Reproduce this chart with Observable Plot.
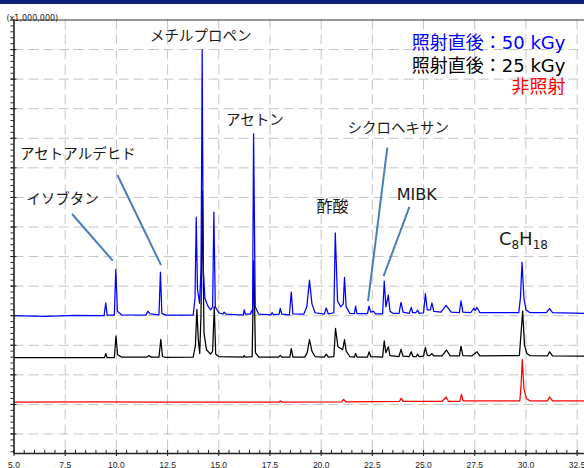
<!DOCTYPE html>
<html><head><meta charset="utf-8">
<script src="https://cdn.jsdelivr.net/npm/d3@7"></script>
<script src="https://cdn.jsdelivr.net/npm/@observablehq/plot@0.6"></script>
<style>
html,body{margin:0;padding:0;background:#fff;}
#bar{height:4px;background:#0d1f7a;}
#chart svg{display:block;}
</style></head><body>
<div id="bar"></div>
<div id="chart"></div>
<script>
// retention time (min), signal (x1,000,000, offset traces)
const blueTrace = [[5.0,4.00],[6.5,3.98],[8.0,4.01],[9.40,4.00],[9.48,4.43],[9.55,4.02],[9.90,4.02],[9.97,5.57],[10.05,4.15],[10.25,4.03],[11.45,4.02],[11.53,4.15],[11.65,4.06],[12.08,4.03],[12.15,5.47],[12.22,4.08],[12.40,4.02],[13.75,4.02],[13.84,4.6],[13.90,7.33],[13.96,4.9],[14.06,4.42],[14.13,5.5],[14.17,10.0],[14.19,13.0],[14.21,10.0],[14.25,5.5],[14.32,4.6],[14.45,4.35],[14.60,4.2],[14.70,4.3],[14.76,7.5],[14.83,4.3],[15.00,4.1],[15.20,4.05],[15.26,4.12],[15.35,4.05],[16.00,4.03],[16.20,4.03],[16.24,4.2],[16.30,4.05],[16.55,4.05],[16.60,4.17],[16.65,4.1],[16.70,10.15],[16.78,4.3],[16.95,4.05],[17.55,4.03],[17.60,4.1],[17.67,4.04],[17.95,4.05],[18.00,4.25],[18.08,4.05],[18.45,4.03],[18.54,4.8],[18.62,4.06],[19.15,4.05],[19.30,4.3],[19.43,5.2],[19.55,4.4],[19.70,4.1],[20.15,4.05],[20.25,4.26],[20.35,4.06],[20.62,4.1],[20.69,6.8],[20.80,4.5],[20.95,4.3],[21.08,4.4],[21.14,5.3],[21.22,4.3],[21.40,4.08],[21.62,4.07],[21.68,4.32],[21.75,4.07],[22.26,4.07],[22.34,4.32],[22.42,4.12],[22.56,4.15],[22.65,4.06],[23.00,4.06],[23.08,5.17],[23.16,4.3],[23.28,4.7],[23.36,4.15],[23.50,4.08],[23.80,4.08],[23.90,4.45],[24.00,4.12],[24.30,4.08],[24.40,4.28],[24.47,4.1],[24.62,4.1],[24.71,4.19],[24.78,4.08],[25.00,4.1],[25.09,4.75],[25.18,4.2],[25.33,4.2],[25.41,4.43],[25.50,4.15],[25.85,4.12],[26.10,4.35],[26.35,4.12],[26.75,4.1],[26.83,4.5],[26.92,4.12],[27.30,4.1],[27.45,4.25],[27.52,4.18],[27.61,4.28],[27.75,4.1],[29.65,4.1],[29.73,4.6],[29.81,5.81],[29.90,4.6],[30.00,4.2],[30.20,4.1],[31.00,4.1],[31.15,4.24],[31.30,4.1],[32.86,4.08]];

const blackTrace = [[5.0,2.58],[7.0,2.58],[9.42,2.58],[9.48,2.72],[9.55,2.58],[9.90,2.58],[9.98,3.31],[10.06,2.68],[10.25,2.60],[11.50,2.60],[11.58,2.65],[11.70,2.60],[12.08,2.60],[12.17,3.20],[12.25,2.62],[12.40,2.59],[13.75,2.60],[13.86,3.0],[13.93,4.21],[14.00,3.2],[14.07,2.72],[14.13,4.0],[14.17,6.5],[14.20,8.22],[14.23,6.0],[14.28,3.4],[14.40,2.85],[14.60,2.70],[14.70,2.80],[14.78,4.30],[14.85,2.70],[15.00,2.62],[16.20,2.60],[16.24,2.65],[16.30,2.60],[16.63,2.62],[16.71,5.85],[16.79,2.75],[16.95,2.60],[17.92,2.60],[18.00,2.66],[18.08,2.60],[18.47,2.60],[18.54,2.89],[18.62,2.60],[19.20,2.60],[19.32,2.75],[19.43,3.19],[19.55,2.80],[19.70,2.62],[20.15,2.60],[20.25,2.70],[20.35,2.60],[20.62,2.62],[20.70,3.57],[20.82,2.95],[21.05,2.85],[21.14,3.19],[21.22,2.80],[21.40,2.62],[21.62,2.60],[21.68,2.72],[21.75,2.60],[22.26,2.60],[22.34,2.78],[22.42,2.62],[23.00,2.60],[23.08,3.15],[23.16,2.75],[23.28,2.95],[23.36,2.65],[23.80,2.62],[23.90,2.86],[24.00,2.63],[24.30,2.62],[24.40,2.78],[24.48,2.62],[24.65,2.62],[24.71,2.70],[24.78,2.62],[25.00,2.63],[25.09,2.93],[25.18,2.66],[25.30,2.65],[25.41,2.72],[25.50,2.64],[25.90,2.64],[26.12,2.84],[26.30,2.64],[26.75,2.64],[26.83,2.97],[26.92,2.65],[27.35,2.64],[27.61,2.78],[27.75,2.64],[29.68,2.65],[29.76,3.40],[29.84,4.16],[29.93,3.00],[30.05,2.72],[30.20,2.65],[31.05,2.64],[31.15,2.78],[31.30,2.64],[32.86,2.63]];

const redTrace = [[5.0,1.08],[9.0,1.09],[12.0,1.08],[15.0,1.08],[17.95,1.08],[18.00,1.12],[18.08,1.08],[21.00,1.09],[21.10,1.17],[21.20,1.09],[23.82,1.10],[23.90,1.21],[24.00,1.10],[25.90,1.10],[26.10,1.25],[26.22,1.10],[26.77,1.10],[26.85,1.34],[26.93,1.12],[29.70,1.12],[29.76,1.60],[29.82,2.52],[29.90,1.55],[30.02,1.20],[30.20,1.12],[31.05,1.12],[31.16,1.25],[31.30,1.12],[32.86,1.12]];

// compound labels: text, time, signal
const peakLabels = [
  {text: "メチルプロペン", t: 14.12, v: 13.45},
  {text: "アセトン", t: 16.76, v: 10.6},
  {text: "アセトアルデヒド", t: 8.12, v: 9.47},
  {text: "イソブタン", t: 7.37, v: 7.93},
  {text: "シクロヘキサン", t: 23.77, v: 10.32}
];
const acidLabel = [{text: "酢酸", t: 20.55, v: 7.68}];
const mibkLabel = [{text: "MIBK", t: 24.67, v: 8.07}];
const octaneLabel = [{text: "C8H18", t: 28.68, v: 6.59}];
// leader lines: from label to peak
const leaders = [
  {t1: 7.835, v1: 7.44, t2: 9.824, v2: 5.86},
  {t1: 10.05, v1: 8.76, t2: 12.18, v2: 5.71},
  {t1: 23.23, v1: 9.68, t2: 22.29, v2: 4.49},
  {t1: 24.31, v1: 7.68, t2: 23.05, v2: 5.34}
];
const legendItems = [
  {text: "照射直後：50 kGy", color: "#0000ff", v: 13.23},
  {text: "照射直後：25 kGy", color: "#000000", v: 12.45},
  {text: "非照射", color: "#ff0000", v: 11.73}
];
const legendT = 31.93;

const xLabels = [5, 7.5, 10, 12.5, 15, 17.5, 20, 22.5, 25, 27.5, 30, 32.5];
const xGrid = [7.5, 10, 12.5, 15, 17.5, 20, 22.5, 25, 27.5, 30, 32.5];
const yGrid = [0,1,2,3,4,5,6,7,8,9,10,11,12,13];
const xMinor = d3.range(5, 32.76, 0.5);
const yMinor = d3.range(-0.6, 14.01, 0.2);
const yMin = -0.66, yMax = 14;

const jp = "'Noto Sans CJK JP', sans-serif";
const lat = "'DejaVu Sans', 'Noto Sans CJK JP', sans-serif";
const gridStyle = {stroke: "#c4c4c4", strokeOpacity: 1, strokeDasharray: "10,5"};

const plot = Plot.plot({
  width: 584, height: 464,
  marginLeft: 13.5, marginRight: 0, marginTop: 15.5, marginBottom: 15,
  x: {domain: [5, 32.86], label: null},
  y: {domain: [yMin, yMax], label: null},
  style: {background: "white", overflow: "visible"},
  marks: [
    Plot.gridX({ticks: xGrid, ...gridStyle}),
    Plot.gridY({ticks: yGrid, ...gridStyle}),
    Plot.line(redTrace, {x: d => d[0], y: d => d[1], stroke: "#ff0000", strokeWidth: 1.25}),
    Plot.line(blackTrace, {x: d => d[0], y: d => d[1], stroke: "#000000", strokeWidth: 1.25}),
    Plot.line(blueTrace, {x: d => d[0], y: d => d[1], stroke: "#0000ff", strokeWidth: 1.25}),
    Plot.link(leaders, {x1: "t1", y1: "v1", x2: "t2", y2: "v2", stroke: "#4a7ebb", strokeWidth: 2}),
    Plot.ruleY([yMax], {stroke: "#333", strokeWidth: 1}),
    Plot.ruleY([yMin], {stroke: "#222", strokeWidth: 1.6}),
    Plot.ruleX([5], {stroke: "#222", strokeWidth: 1.6}),
    Plot.axisX({ticks: xMinor, tickSize: 3, dy: -3, fill: "none", stroke: "#222", label: null}),
    Plot.axisX({ticks: xLabels, tickSize: 6, dy: -3, fill: "none", stroke: "#222", label: null}),
    Plot.axisX({ticks: xLabels, tickSize: 0, tickPadding: 8, tickFormat: d => d.toFixed(1), fontSize: 8.5, fontFamily: "'Liberation Sans', sans-serif", fill: "#222", label: null}),
    Plot.axisY({ticks: yMinor, tickSize: 3, fill: "none", stroke: "#222", label: null}),
    Plot.axisY({ticks: yGrid, tickSize: 6, dx: 3, fill: "none", stroke: "#222", label: null}),
    Plot.text(["(x1,000,000)"], {frameAnchor: "top-left", text: d => d, dx: -7.5, dy: -4.8, textAnchor: "start", fontSize: 8, fontFamily: "'DejaVu Sans', sans-serif", fill: "#222"}),
    Plot.text(peakLabels, {x: "t", y: "v", text: "text", fontSize: 14.5, fontFamily: jp, fill: "#1a1a1a", textAnchor: "middle"}),
    Plot.text(acidLabel, {x: "t", y: "v", text: "text", fontSize: 16, fontFamily: jp, fill: "#1a1a1a", textAnchor: "middle"}),
    Plot.text(mibkLabel, {x: "t", y: "v", text: "text", fontSize: 16, fontFamily: lat, fill: "#1a1a1a", textAnchor: "middle"}),
    Plot.text(octaneLabel, {x: "t", y: "v", text: "text", fontSize: 18, fontFamily: lat, fill: "#1a1a1a", textAnchor: "start"}),
    Plot.text(legendItems, {x: () => legendT, y: "v", text: "text", fill: "color", fontSize: 18, fontFamily: lat, textAnchor: "end"})
  ]
});
document.getElementById("chart").appendChild(plot);

// subscripts for C8H18
d3.select(plot).selectAll("text").each(function() {
  if (this.textContent === "C8H18") {
    const t = d3.select(this);
    t.text("");
    t.append("tspan").text("C");
    t.append("tspan").attr("font-size", 12).attr("dy", 4.5).text("8");
    t.append("tspan").attr("dy", -4.5).text("H");
    t.append("tspan").attr("font-size", 12).attr("dy", 4.5).text("18");
  }
});
</script></body></html>
